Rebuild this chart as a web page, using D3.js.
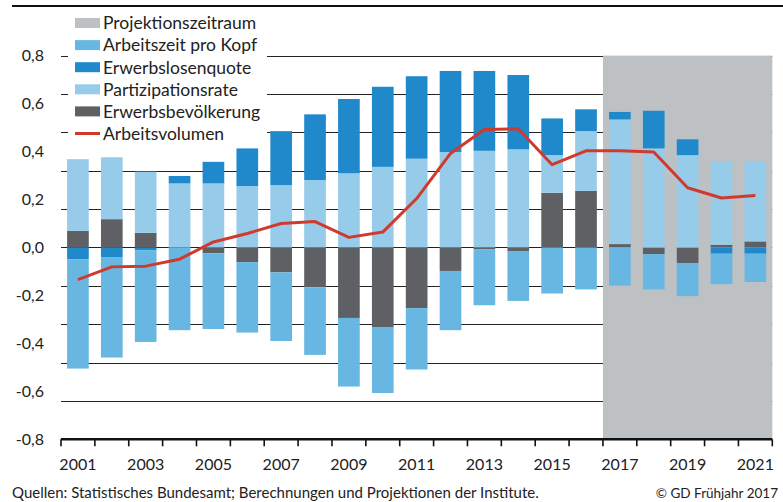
<!DOCTYPE html>
<html>
<head>
<meta charset="utf-8">
<script src="https://cdn.jsdelivr.net/npm/d3@7"></script>
<style>
  body { margin: 0; background: #fff; }
  svg { display: block; font-family: Lato, "Open Sans", sans-serif; }
</style>
</head>
<body>
<div id="chart"></div>
<script>
const years = d3.range(2001, 2022);

// Wachstumsbeiträge in Prozentpunkten
const erwerbsbevoelkerung = [0.069, 0.118, 0.061, 0, -0.024, -0.061, -0.104, -0.166, -0.294, -0.334, -0.253,
  -0.098, -0.007, -0.015, 0.228, 0.236, 0.014, -0.028, -0.066, 0.011, 0.025];
const partizipationsrate = [0.299, 0.258, 0.255, 0.267, 0.267, 0.256, 0.260, 0.281, 0.309, 0.336, 0.370,
  0.398, 0.403, 0.409, 0.157, 0.249, 0.520, 0.413, 0.385, 0.348, 0.334];
const erwerbslosenquote = [-0.049, -0.040, -0.011, 0.031, 0.090, 0.157, 0.225, 0.274, 0.310, 0.334, 0.344,
  0.338, 0.333, 0.310, 0.153, 0.091, 0.031, 0.157, 0.066, -0.026, -0.026];
const arbeitszeit = [-0.456, -0.419, -0.383, -0.345, -0.316, -0.294, -0.286, -0.282, -0.286, -0.273, -0.256,
  -0.247, -0.234, -0.208, -0.192, -0.175, -0.159, -0.147, -0.137, -0.127, -0.118];
const arbeitsvolumen = [-0.134, -0.081, -0.078, -0.049, 0.023, 0.058, 0.100, 0.108, 0.042, 0.064, 0.204,
  0.392, 0.492, 0.495, 0.345, 0.403, 0.403, 0.398, 0.249, 0.206, 0.217];

const projectionStart = 2017;
const yLabels = [-0.8, -0.6, -0.4, -0.2, 0, 0.2, 0.4, 0.6, 0.8];
const gridValues = [-0.8, -0.64, -0.48, -0.32, -0.16, 0, 0.16, 0.32, 0.48, 0.64, 0.8];

const seriesKeys = ['bev', 'part', 'elq', 'az'];
const colors = {
  proj: '#bdc1c4',
  az: '#67b7e2',
  elq: '#2089cb',
  part: '#97cbea',
  bev: '#5f6064',
  line: '#cf3a2d'
};

const width = 783, height = 502;
const plotLeft = 61, plotRight = 772.3, plotTop = 55.6, plotBottom = 439.3;

const svg = d3.select('#chart').append('svg')
  .attr('width', width)
  .attr('height', height);

const x = d3.scaleBand()
  .domain(years)
  .range([plotLeft, plotRight])
  .paddingInner(0.36)
  .paddingOuter(0.18);

const y = d3.scaleLinear()
  .domain([-0.8, 0.8])
  .range([plotBottom, plotTop]);

// top rule
svg.append('line')
  .attr('x1', 12).attr('x2', width)
  .attr('y1', 6).attr('y2', 6)
  .attr('stroke', '#111').attr('stroke-width', 2.2);

// gridlines
svg.append('g')
  .selectAll('line')
  .data(gridValues.filter(d => d > -0.8))
  .join('line')
  .attr('x1', plotLeft).attr('x2', plotRight)
  .attr('y1', d => Math.round(y(d)) + 0.5)
  .attr('y2', d => Math.round(y(d)) + 0.5)
  .attr('stroke', '#222').attr('stroke-width', 1.2);

// projection area
const projX = x(projectionStart) - x.step() * x.paddingInner() / 2;
svg.append('rect')
  .attr('x', projX)
  .attr('y', y(0.8))
  .attr('width', plotRight - projX)
  .attr('height', y(-0.8) - y(0.8))
  .attr('fill', colors.proj);

// stacked bars
const rows = years.map((yr, i) => ({
  year: yr,
  bev: erwerbsbevoelkerung[i],
  part: partizipationsrate[i],
  elq: erwerbslosenquote[i],
  az: arbeitszeit[i]
}));

const stacked = d3.stack()
  .keys(seriesKeys)
  .offset(d3.stackOffsetDiverging)(rows);

svg.append('g')
  .selectAll('g')
  .data(stacked)
  .join('g')
  .attr('fill', d => colors[d.key])
  .selectAll('rect')
  .data(d => d)
  .join('rect')
  .attr('x', d => x(d.data.year))
  .attr('width', x.bandwidth())
  .attr('y', d => y(d[1]))
  .attr('height', d => Math.max(0, y(d[0]) - y(d[1])));

// x axis line + ticks at band edges
svg.append('line')
  .attr('x1', plotLeft).attr('x2', plotRight)
  .attr('y1', plotBottom).attr('y2', plotBottom)
  .attr('stroke', '#111').attr('stroke-width', 2.6);

svg.append('g')
  .selectAll('line')
  .data(d3.range(years.length + 1))
  .join('line')
  .attr('x1', i => plotLeft + i * x.step())
  .attr('x2', i => plotLeft + i * x.step())
  .attr('y1', plotBottom).attr('y2', plotBottom + 7)
  .attr('stroke', '#111').attr('stroke-width', 1.6);

const xAxis = svg.append('g')
  .attr('transform', `translate(0,${plotBottom})`)
  .call(d3.axisBottom(x)
    .tickValues(years.filter(d => d % 2 === 1))
    .tickSize(0)
    .tickPadding(19)
    .tickFormat(d3.format('d')));
xAxis.select('.domain').remove();
xAxis.selectAll('text')
  .attr('font-family', 'Lato, sans-serif')
  .attr('font-size', 16)
  .attr('fill', '#222');

// y labels
const yAxis = svg.append('g')
  .attr('transform', 'translate(44,0)')
  .call(d3.axisLeft(y)
    .tickValues(yLabels)
    .tickSize(0)
    .tickPadding(0)
    .tickFormat(d => d3.format('.1f')(d).replace('.', ',').replace('−', '-')));
yAxis.select('.domain').remove();
yAxis.selectAll('text')
  .attr('font-family', 'Lato, sans-serif')
  .attr('font-size', 16)
  .attr('fill', '#222');

// Arbeitsvolumen line
const line = d3.line()
  .x((d, i) => x(years[i]) + x.bandwidth() / 2)
  .y(d => y(d));

svg.append('path')
  .datum(arbeitsvolumen)
  .attr('d', line)
  .attr('fill', 'none')
  .attr('stroke', colors.line)
  .attr('stroke-width', 3)
  .attr('stroke-linejoin', 'round');

// legend
const legendItems = [
  { label: 'Projektionszeitraum', color: colors.proj, type: 'rect' },
  { label: 'Arbeitszeit pro Kopf', color: colors.az, type: 'rect' },
  { label: 'Erwerbslosenquote', color: colors.elq, type: 'rect' },
  { label: 'Partizipationsrate', color: colors.part, type: 'rect' },
  { label: 'Erwerbsbevölkerung', color: colors.bev, type: 'rect' },
  { label: 'Arbeitsvolumen', color: colors.line, type: 'line' }
];

const legend = svg.append('g');
legend.append('rect')
  .attr('x', 68).attr('y', 10)
  .attr('width', 199).attr('height', 133)
  .attr('fill', '#fff');

const li = legend.selectAll('g')
  .data(legendItems)
  .join('g')
  .attr('transform', (d, i) => `translate(75,${23 + i * 22.1})`);

li.filter(d => d.type === 'rect').append('rect')
  .attr('x', 0).attr('y', -5)
  .attr('width', 25).attr('height', 10)
  .attr('fill', d => d.color);

li.filter(d => d.type === 'line').append('line')
  .attr('x1', 0).attr('x2', 25)
  .attr('y1', 0).attr('y2', 0)
  .attr('stroke', d => d.color)
  .attr('stroke-width', 3);

li.append('text')
  .attr('x', 28)
  .attr('dy', '0.36em')
  .attr('font-size', 17.5)
  .attr('fill', '#222')
  .text(d => d.label);

// footer
svg.append('text')
  .attr('x', 12).attr('y', 498)
  .attr('font-size', 15)
  .attr('fill', '#222')
  .text('Quellen: Statistisches Bundesamt; Berechnungen und Projektionen der Institute.');

svg.append('text')
  .attr('x', 778).attr('y', 498)
  .attr('text-anchor', 'end')
  .attr('font-size', 13.5)
  .attr('fill', '#222')
  .text('© GD Frühjahr 2017');
</script>
</body>
</html>
